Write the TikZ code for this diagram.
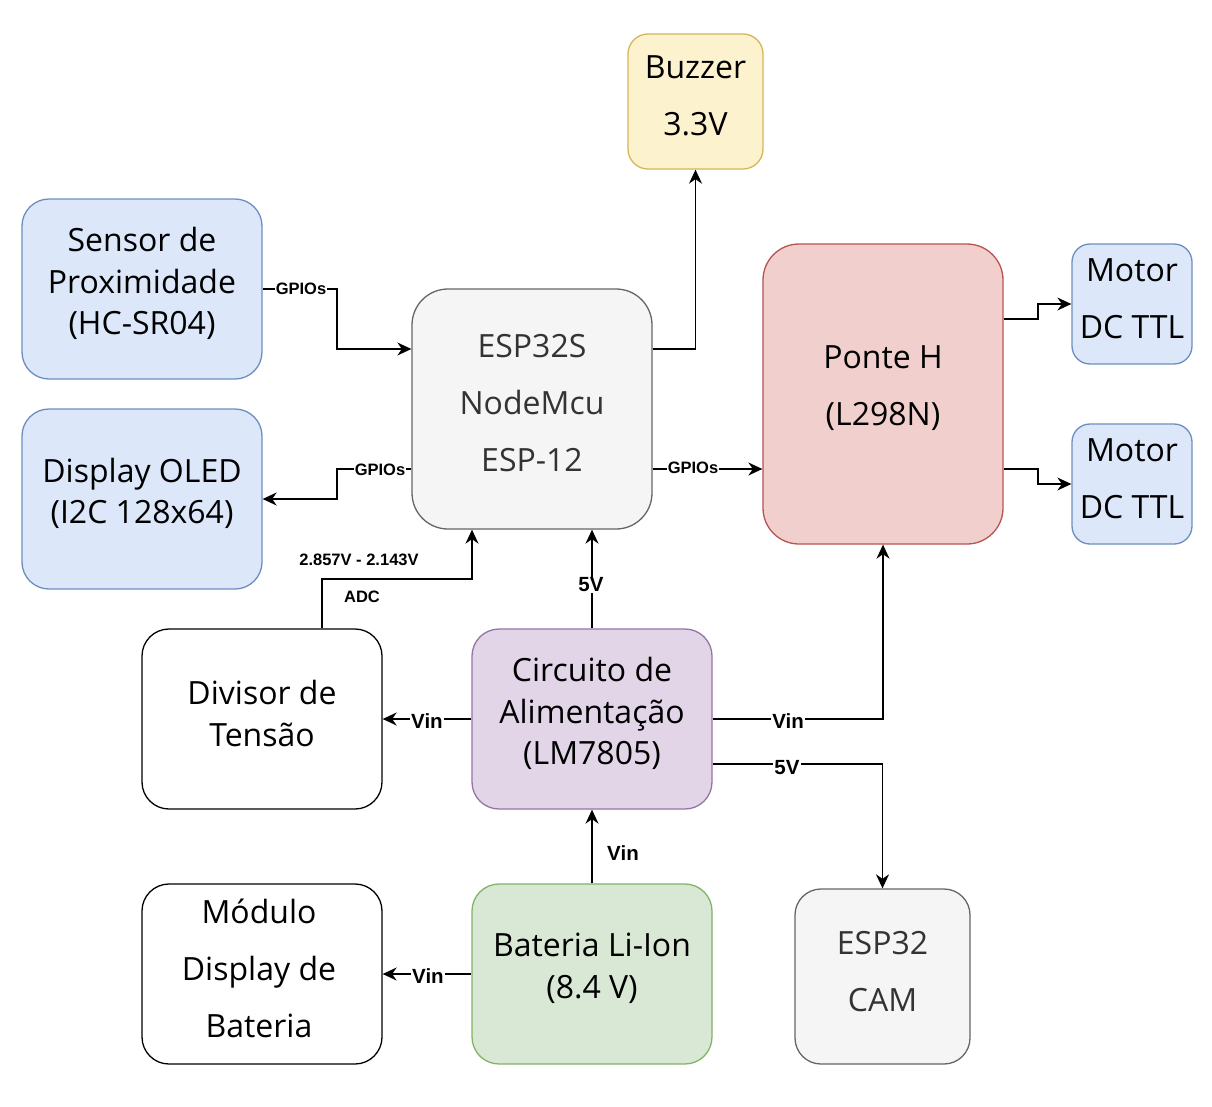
\documentclass[tikz,border=0pt]{standalone}
\usepackage{fontspec}
\setmainfont{Open Sans}
\newfontfamily\lblfont{Liberation Sans}
\usetikzlibrary{arrows.meta}
\definecolor{yelF}{HTML}{FCF2CE}\definecolor{yelD}{HTML}{D6B656}
\definecolor{bluF}{HTML}{DDE7FA}\definecolor{bluD}{HTML}{6C8EBF}
\definecolor{gryF}{HTML}{F5F5F5}\definecolor{gryD}{HTML}{666666}\definecolor{gryT}{HTML}{333333}
\definecolor{redF}{HTML}{F0CFCD}\definecolor{redD}{HTML}{B85450}
\definecolor{purF}{HTML}{E1D5E7}\definecolor{purD}{HTML}{9673A6}
\definecolor{grnF}{HTML}{D9E8D5}\definecolor{grnD}{HTML}{82B366}
\begin{document}
\begin{tikzpicture}[x=1pt,y=-1pt,
  box/.style={draw, line width=1.3pt, rectangle, inner sep=0pt},
  wide/.style={minimum width=240pt, minimum height=180pt, rounded corners=27pt},
  txt/.style={align=center, font=\fontsize{32}{41.5}\selectfont, inner sep=0pt},
  txtw/.style={align=center, font=\fontsize{32}{57}\selectfont, inner sep=0pt},
  conn/.style={line width=1.5pt, -{Stealth[length=14pt,width=13pt,inset=4.5pt]}},
  lbls/.style={font=\lblfont\bfseries\fontsize{16.5}{19}\selectfont, fill=white, inner sep=1pt},
  lblb/.style={font=\lblfont\bfseries\fontsize{20.5}{23}\selectfont, fill=white, inner sep=1pt}]
\fill[white] (0,0) rectangle (1212,1106);
\useasboundingbox (0,0) rectangle (1212,1106);

% boxes
\node[box, fill=yelF, draw=yelD, minimum width=135pt, minimum height=135pt, rounded corners=20pt] (bz) at (695.5,101.5) {};
\node[box, wide, fill=bluF, draw=bluD] (sensor) at (142,289) {};
\node[box, fill=gryF, draw=gryD, minimum width=240pt, minimum height=240pt, rounded corners=36pt] (esp) at (532,409) {};
\node[box, fill=redF, draw=redD, minimum width=240pt, minimum height=300pt, rounded corners=36pt] (ponte) at (883,394) {};
\node[box, fill=bluF, draw=bluD, minimum width=120pt, minimum height=120pt, rounded corners=18pt] (m1) at (1132,304) {};
\node[box, fill=bluF, draw=bluD, minimum width=120pt, minimum height=120pt, rounded corners=18pt] (m2) at (1132,484) {};
\node[box, wide, fill=bluF, draw=bluD] (oled) at (142,499) {};
\node[box, wide, fill=white, draw=black] (div) at (262,719) {};
\node[box, wide, fill=purF, draw=purD] (circ) at (592,719) {};
\node[box, wide, fill=white, draw=black] (mod) at (262,974) {};
\node[box, wide, fill=grnF, draw=grnD] (bat) at (592,974) {};
\node[box, fill=gryF, draw=gryD, minimum width=175pt, minimum height=175pt, rounded corners=26pt] (cam) at (882.5,976.5) {};

% texts
\node[txtw] (bz-t) at ([yshift=5.5pt]bz.center) {Buzzer\\3.3V};
\node[txt] (sensor-t) at ([yshift=5.5pt]sensor.center) {Sensor de\\Proximidade\\(HC-SR04)};
\node[txtw, text=gryT] (esp-t) at ([yshift=5.5pt]esp.center) {ESP32S\\NodeMcu\\ESP-12};
\node[txtw] (ponte-t) at ([yshift=5.5pt]ponte.center) {Ponte H\\(L298N)};
\node[txtw] (m1-t) at ([yshift=5.5pt]m1.center) {Motor\\DC TTL};
\node[txtw] (m2-t) at ([yshift=5.5pt]m2.center) {Motor\\DC TTL};
\node[txt] (oled-t) at ([yshift=5.5pt]oled.center) {Display OLED\\(I2C 128x64)};
\node[txt] (div-t) at ([yshift=5.5pt]div.center) {Divisor de\\Tensão};
\node[txt] (circ-t) at ([yshift=5.5pt]circ.center) {Circuito de\\Alimentação\\(LM7805)};
\node[txtw] (mod-t) at ([xshift=-3pt,yshift=5.5pt]mod.center) {Módulo\\Display de\\Bateria};
\node[txt] (bat-t) at ([yshift=5.5pt]bat.center) {Bateria Li-Ion\\(8.4 V)};
\node[txtw, text=gryT] (cam-t) at ([yshift=5pt]cam.center) {ESP32\\CAM};

% connectors
\draw[conn] (sensor.east) -- (337,289) -- (337,349) -- (esp.west |- 0,349);
\draw[conn] (esp.west |- 0,469) -- (337,469) -- (337,499) -- (oled.east);
\draw[conn] (esp.east |- 0,349) -| (bz.south);
\draw[conn] (esp.east |- 0,469) -- (ponte.west |- 0,469);
\draw[conn] (ponte.east |- 0,319) -- (1038,319) -- (1038,304) -- (m1.west);
\draw[conn] (ponte.east |- 0,469) -- (1038,469) -- (1038,484) -- (m2.west);
\draw[conn] (div.north -| 322,0) -- (322,579) -- (472,579) -- (esp.south -| 472,0);
\draw[conn] (circ.north) -- (esp.south -| circ.north);
\draw[conn] (circ.west) -- (div.east);
\draw[conn] (circ.east) -| (ponte.south);
\draw[conn] (circ.east |- 0,764) -| (cam.north);
\draw[conn] (bat.north) -- (circ.south);
\draw[conn] (bat.west) -- (mod.east);

% labels
\node[lbls] (g1) at (301,289) {GPIOs};
\node[lbls] (g2) at (380,470) {GPIOs};
\node[lbls] (g3) at (693,468) {GPIOs};
\node[lbls, fill=none] (adcv) at (359,560) {2.857V - 2.143V};
\node[lbls, fill=none] (adc) at (362,597) {ADC};
\node[lblb] (v5a) at (591,585) {5V};
\node[lblb] (vin1) at (427,721) {Vin};
\node[lblb] (vin2) at (788,721) {Vin};
\node[lblb] (v5b) at (787,768) {5V};
\node[lblb, fill=none] (vin3) at (623,853) {Vin};
\node[lblb] (vin4) at (428,976) {Vin};
\end{tikzpicture}
\end{document}
